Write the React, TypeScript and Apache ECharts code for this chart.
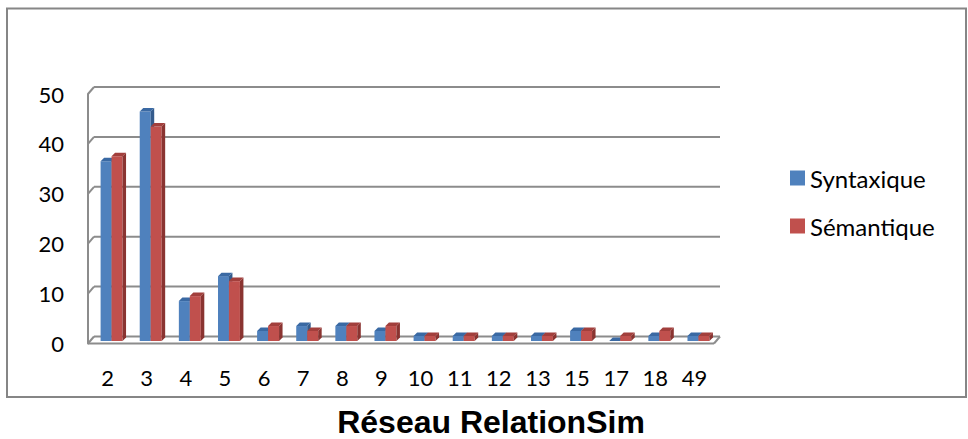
import React, { useEffect, useRef } from "react";
import * as echarts from "echarts";

const categories = ["2", "3", "4", "5", "6", "7", "8", "9", "10", "11", "12", "13", "15", "17", "18", "49"];
const syntaxique = [36, 46, 8, 13, 2, 3, 3, 2, 1, 1, 1, 1, 2, 0, 1, 1];
const semantique = [37, 43, 9, 12, 3, 2, 3, 3, 1, 1, 1, 1, 2, 1, 2, 1];
const yTicks = [0, 10, 20, 30, 40, 50];
const seriesNames = ["Syntaxique", "Sémantique"];
const titleText = "Réseau RelationSim";

const WALL_DX = 6;
const WALL_DY = -7;
const BAR_DX = 3.5;
const BAR_DY = -3.5;
const GRID_COLOR = "#8c8c8c";

const faces = [
  { front: "#4F81BD", top: "#3A69A3", side: "#345B8C", offset: -0.178 },
  { front: "#C0504D", top: "#A23F3C", side: "#8A3431", offset: 0.102 },
];

function makeBarRender(idx: number) {
  return (params: any, api: any) => {
    const i = api.value(0);
    const v = api.value(1);
    const band = api.size([1, 0])[0];
    const c = api.coord([i, v]);
    const b = api.coord([i, 0]);
    const bw = band * 0.281;
    const f = faces[idx];
    const left = c[0] + f.offset * band;
    const top = c[1] - 2.5;
    const bottom = b[1] - 2.5;
    return {
      type: "group",
      children: [
        {
          type: "rect",
          shape: { x: left, y: top, width: bw, height: Math.max(0, bottom - top) },
          style: { fill: f.front },
        },
        {
          type: "polygon",
          shape: {
            points: [
              [left + bw, top],
              [left + bw + BAR_DX, top + BAR_DY],
              [left + bw + BAR_DX, bottom + BAR_DY],
              [left + bw, bottom],
            ],
          },
          style: { fill: f.side },
        },
        {
          type: "polygon",
          shape: {
            points: [
              [left, top],
              [left + bw, top],
              [left + bw + BAR_DX, top + BAR_DY],
              [left + BAR_DX, top + BAR_DY],
            ],
          },
          style: { fill: f.top },
        },
      ],
    };
  };
}

function frameRender(params: any, api: any) {
  const cs = params.coordSys;
  const x0 = cs.x;
  const w = cs.width;
  const v = api.value(0);
  const y = api.coord([0, v])[1];
  const st = { stroke: GRID_COLOR, lineWidth: 2, fill: "none" };
  const children: any[] = [
    { type: "line", shape: { x1: x0 + WALL_DX, y1: y + WALL_DY, x2: x0 + w + WALL_DX, y2: y + WALL_DY }, style: st },
    { type: "line", shape: { x1: x0, y1: y, x2: x0 + WALL_DX, y2: y + WALL_DY }, style: st },
  ];
  if (v === 0) {
    children.push({ type: "line", shape: { x1: x0, y1: y, x2: x0 + w, y2: y }, style: st });
    children.push({ type: "line", shape: { x1: x0 + w, y1: y, x2: x0 + w + WALL_DX, y2: y + WALL_DY }, style: st });
  }
  return { type: "group", children };
}

export default function App() {
  const ref = useRef<HTMLDivElement>(null);
  useEffect(() => {
    if (!ref.current) return;
    const chart = echarts.init(ref.current, null, { renderer: "svg" });
    chart.setOption({
      animation: false,
      backgroundColor: "#ffffff",
      textStyle: { fontFamily: "Lato" },
      title: {
        text: titleText,
        left: 491,
        textAlign: "center",
        top: 406,
        padding: 0,
        textStyle: { fontFamily: "Liberation Sans", fontWeight: "bold", fontSize: 32, lineHeight: 32, color: "#000" },
      },
      graphic: [
        {
          type: "rect",
          shape: { x: 7, y: 8.5, width: 959, height: 388.5 },
          style: { fill: "none", stroke: "#868686", lineWidth: 2 },
          silent: true,
        },
      ],
      legend: {
        orient: "vertical",
        left: 785,
        top: 161,
        icon: "rect",
        itemWidth: 15,
        itemHeight: 15,
        itemGap: 24,
        textStyle: { fontFamily: "Lato", fontSize: 24, color: "#000" },
        data: seriesNames,
      },
      grid: { left: 88, right: 254, top: 94, bottom: 95.5 },
      xAxis: {
        type: "category",
        data: categories,
        axisLine: { show: false },
        axisTick: { show: false },
        axisLabel: { fontFamily: "Lato", fontSize: 22, color: "#000", margin: 23 },
      },
      yAxis: {
        type: "value",
        min: 0,
        max: 50,
        interval: 10,
        axisLine: { show: true, lineStyle: { color: GRID_COLOR, width: 2 } },
        axisTick: { show: false },
        splitLine: { show: false },
        axisLabel: { fontFamily: "Lato", fontSize: 22, color: "#000", margin: 24, padding: [5, 0, 0, 0] },
      },
      series: [
        {
          type: "custom",
          name: "frame",
          renderItem: frameRender,
          data: yTicks.map((t) => [t]),
          encode: { y: 0 },
          silent: true,
          z: 1,
        },
        {
          type: "custom",
          name: seriesNames[0],
          renderItem: makeBarRender(0),
          data: syntaxique.map((v, i) => [i, v]),
          encode: { x: 0, y: 1 },
          itemStyle: { color: faces[0].front },
          z: 2,
        },
        {
          type: "custom",
          name: seriesNames[1],
          renderItem: makeBarRender(1),
          data: semantique.map((v, i) => [i, v]),
          encode: { x: 0, y: 1 },
          itemStyle: { color: faces[1].front },
          z: 3,
        },
      ],
    });
    return () => chart.dispose();
  }, []);
  return <div ref={ref} style={{ position: "absolute", left: 0, top: 0, width: 968, height: 439 }} />;
}
